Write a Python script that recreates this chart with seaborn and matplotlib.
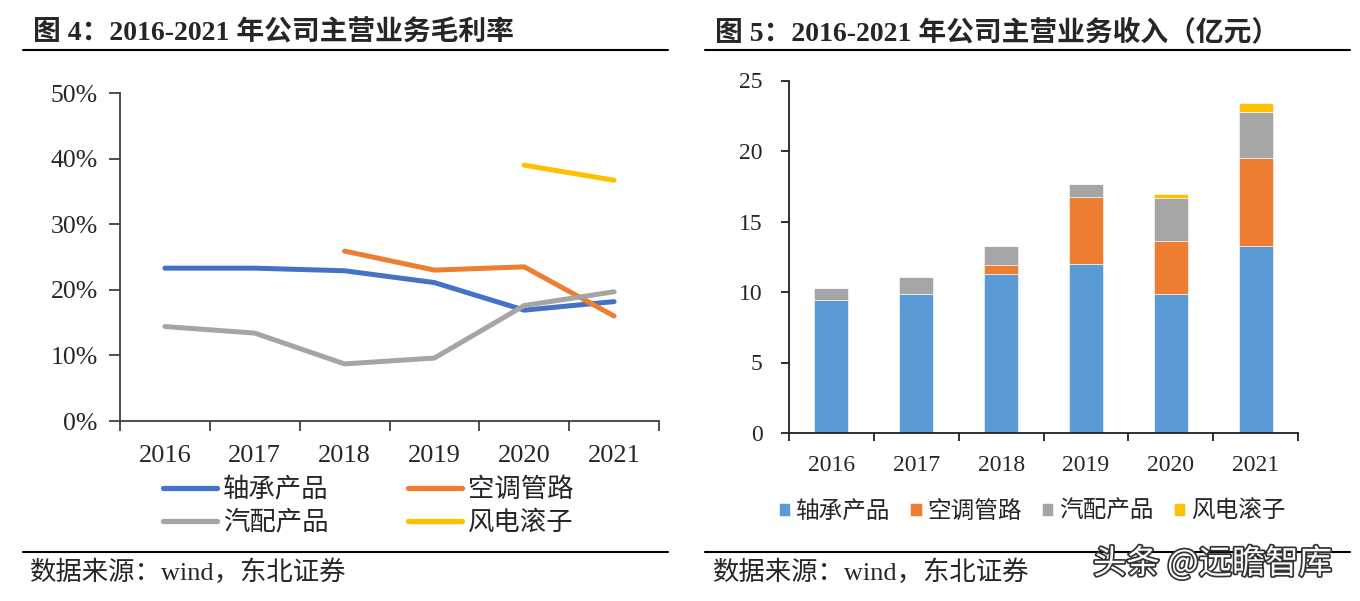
import matplotlib
matplotlib.use("Agg")
import matplotlib.pyplot as plt
import matplotlib.patheffects as pe
from matplotlib.ticker import FixedLocator
import seaborn as sns
import pandas as pd
import numpy as np

# ==================== DATA ====================
years = ["2016", "2017", "2018", "2019", "2020", "2021"]
products = ["轴承产品", "空调管路", "汽配产品", "风电滚子"]

# gross margin (%), None = no data
margin_bearing = [23.3, 23.3, 22.9, 21.1, 16.9, 18.2]
margin_ac_pipe = [None, None, 25.9, 23.0, 23.5, 16.0]
margin_auto = [14.4, 13.4, 8.7, 9.6, 17.6, 19.7]
margin_wind = [None, None, None, None, 39.0, 36.7]

# revenue (亿元)
rev_bearing = [9.46, 9.83, 11.30, 12.01, 9.83, 13.26]
rev_ac_pipe = [0.0, 0.0, 0.64, 4.71, 3.81, 6.24]
rev_auto = [0.85, 1.21, 1.35, 0.94, 3.03, 3.29]
rev_wind = [0.0, 0.0, 0.0, 0.0, 0.26, 0.59]

line_colors = ["#4472C4", "#ED7D31", "#A5A5A5", "#FFC000"]
bar_colors = ["#5B9BD5", "#ED7D31", "#A5A5A5", "#FFC000"]

sns.set_style("white")
plt.rcParams["font.family"] = ["Liberation Serif", "Noto Sans CJK SC"]
plt.rcParams["axes.unicode_minus"] = False

W, H = 1360, 601
fig = plt.figure(figsize=(W / 100, H / 100), dpi=100)


def box(x0, y0, x1, y1):
    # pixel box -> figure fraction
    return [x0 / W, 1 - y1 / H, (x1 - x0) / W, (y1 - y0) / H]


def fy(y):
    return 1 - y / H


# ==================== LEFT: gross margin ====================
df_m = pd.DataFrame({
    "year": years * 4,
    "product": np.repeat(products, len(years)),
    "margin": [v if v is None else v / 100 for v in
               margin_bearing + margin_ac_pipe + margin_auto + margin_wind],
}).dropna()
df_m["margin"] = df_m["margin"].astype(float)

ax1 = fig.add_axes(box(120, 93, 659, 421))
sns.lineplot(data=df_m, x="year", y="margin", hue="product",
             hue_order=products, palette=line_colors, linewidth=3.6,
             ax=ax1, legend=False, solid_capstyle="round")
ax1.set_xlim(-0.5, 5.5)
ax1.set_ylim(0, 0.5)
ax1.set_yticks(np.arange(0, 0.51, 0.1))
ax1.set_yticklabels([f"{int(round(v * 100))}%" for v in np.arange(0, 0.51, 0.1)])
ax1.set_xticks(range(len(years)))
ax1.set_xticklabels(years)
ax1.xaxis.set_minor_locator(FixedLocator(np.arange(-0.5, 6, 1)))
ax1.tick_params(axis="x", which="major", bottom=True, length=0, pad=17, labelsize=19)
ax1.tick_params(axis="x", which="minor", bottom=True, length=7, width=1.3, color="#404040")
ax1.tick_params(axis="y", left=True, length=8, width=1.3, color="#404040", pad=8, labelsize=18.5)
ax1.set_xlabel("")
ax1.set_ylabel("")
for s in ["top", "right"]:
    ax1.spines[s].set_visible(False)
for s in ["left", "bottom"]:
    ax1.spines[s].set_color("#404040")
    ax1.spines[s].set_linewidth(1.3)

# legend (2 columns, filled row by row)
handles = [plt.Line2D([], [], color=c, lw=3.8, solid_capstyle="round") for c in line_colors]
order = [0, 2, 1, 3]
fig.legend([handles[i] for i in order], [products[i] for i in order],
           loc="center", bbox_to_anchor=(368 / W, fy(506)),
           ncol=2, frameon=False, fontsize=19, handlelength=2.05,
           handletextpad=0.23, columnspacing=3.0, labelspacing=0.3,
           borderpad=0, borderaxespad=0)

# ==================== RIGHT: revenue ====================
ax2 = fig.add_axes(box(789, 80.5, 1298, 433))
bottom = np.zeros(len(years))
for vals, c, name in zip([rev_bearing, rev_ac_pipe, rev_auto, rev_wind], bar_colors, products):
    ax2.bar(years, vals, bottom=bottom, color=c, width=0.4, label=name,
            edgecolor="white", linewidth=0.4)
    bottom = bottom + np.array(vals)
ax2.set_xlim(-0.5, 5.5)
ax2.set_ylim(0, 25)
ax2.set_yticks(range(0, 26, 5))
ax2.xaxis.set_minor_locator(FixedLocator(np.arange(-0.5, 6, 1)))
ax2.tick_params(axis="x", which="major", bottom=True, length=0, pad=16, labelsize=17)
ax2.tick_params(axis="x", which="minor", bottom=True, length=6, width=1.3, color="#202020")
ax2.tick_params(axis="y", left=True, length=6, width=1.3, color="#202020", pad=13, labelsize=17)
for s in ["top", "right"]:
    ax2.spines[s].set_visible(False)
for s in ["left", "bottom"]:
    ax2.spines[s].set_color("#202020")
    ax2.spines[s].set_linewidth(1.3)
ax2.legend(loc="center", bbox_to_anchor=(1032 / W, fy(512)),
           bbox_transform=fig.transFigure, ncol=4, frameon=False, fontsize=17,
           handlelength=0.47, handleheight=0.47, handletextpad=0.25,
           columnspacing=0.85, borderpad=0, borderaxespad=0)

# ==================== TITLES / SOURCE ====================
fig.text(33 / W, fy(33), "图 4：2016-2021 年公司主营业务毛利率", fontsize=20,
         fontweight="bold", ha="left", va="center")
fig.text(715 / W, fy(33), "图 5：2016-2021 年公司主营业务收入（亿元）", fontsize=20,
         fontweight="bold", ha="left", va="center")
for x0, x1 in [(23, 668), (705, 1350)]:
    fig.add_artist(plt.Line2D([x0 / W, x1 / W], [fy(50), fy(50)], color="black", lw=1.5))
    fig.add_artist(plt.Line2D([x0 / W, x1 / W], [fy(552), fy(552)], color="black", lw=1.5))
fig.text(30 / W, fy(572), "数据来源：wind，东北证券", fontsize=19, ha="left", va="center")
fig.text(713 / W, fy(572), "数据来源：wind，东北证券", fontsize=19, ha="left", va="center")
fig.text(1093 / W, fy(564), "头条 @远瞻智库", fontsize=24, ha="left", va="center",
         color="white", family=["Noto Sans CJK SC"],
         path_effects=[pe.withStroke(linewidth=2.5, foreground="#333333")])

fig.savefig("out.png", dpi=100)
